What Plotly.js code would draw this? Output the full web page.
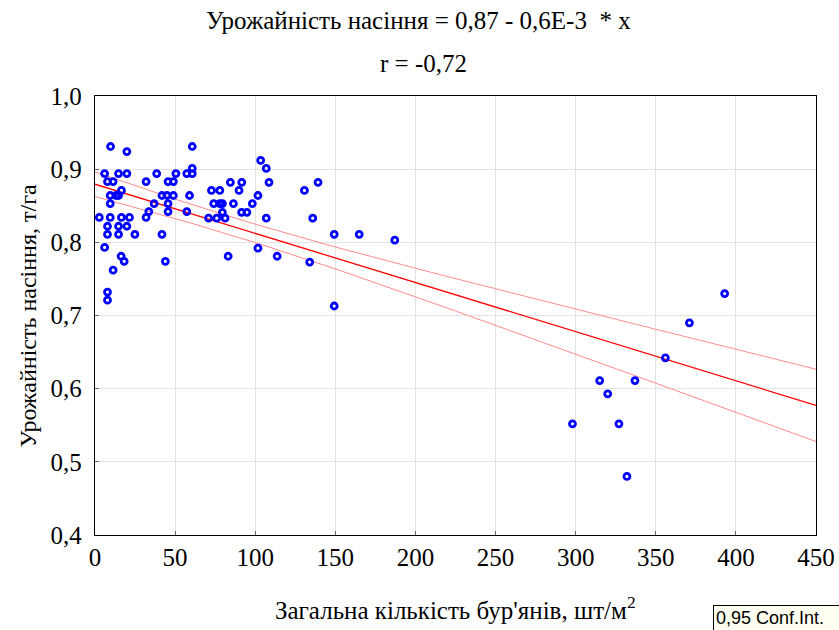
<!DOCTYPE html>
<html>
<head>
<meta charset="utf-8">
<script src="https://cdn.plot.ly/plotly-3.0.1.min.js"></script>
<style>html,body{margin:0;padding:0;background:#fff;}#chart{width:839px;height:630px;}</style>
</head>
<body>
<div id="chart"></div>
<script>
// Weed density (plants per m²)
var weedDensity = [
  9.7, 19.9, 60.7, 6.0, 14.7, 19.9, 38.5, 50.5, 57.3, 60.7,
  60.7, 7.8, 11.3, 31.9, 45.6, 48.9, 16.5, 9.5, 13.1, 14.7,
  41.8, 44.9, 48.9, 59.0, 9.5, 36.9, 45.6, 33.6, 45.6, 57.3,
  2.7, 9.5, 16.5, 21.5, 31.9, 7.8, 14.7, 19.9, 7.8, 14.7,
  24.9, 41.8, 6.0, 16.3, 18.2, 43.9, 11.3, 7.8, 7.8,
  103.4, 106.9, 84.5, 91.6, 108.6, 139.2, 72.7, 77.9, 89.9, 130.7,
  101.7, 74.1, 77.9, 79.5, 86.4, 98.2, 79.5, 91.5, 94.8, 70.9,
  76.0, 81.2, 106.9, 135.9, 149.3, 164.9, 187.1, 101.7, 83.1, 113.7,
  134.0, 149.3,
  393, 371, 356, 315, 337, 320, 298, 327, 332
];
// Seed yield (t/ha)
var seedYield = [
  0.931, 0.924, 0.931, 0.894, 0.894, 0.894, 0.894, 0.894, 0.894, 0.894,
  0.901, 0.883, 0.883, 0.883, 0.883, 0.883, 0.871, 0.864, 0.864, 0.864,
  0.864, 0.864, 0.864, 0.864, 0.853, 0.853, 0.853, 0.842, 0.842, 0.842,
  0.834, 0.834, 0.834, 0.834, 0.834, 0.822, 0.822, 0.822, 0.811, 0.811,
  0.811, 0.811, 0.793, 0.781, 0.774, 0.774, 0.762, 0.732, 0.721,
  0.912, 0.901, 0.882, 0.882, 0.882, 0.882, 0.871, 0.871, 0.871, 0.871,
  0.864, 0.853, 0.853, 0.853, 0.853, 0.853, 0.841, 0.841, 0.841, 0.833,
  0.833, 0.833, 0.833, 0.833, 0.811, 0.811, 0.803, 0.792, 0.781, 0.781,
  0.773, 0.713,
  0.730, 0.690, 0.642, 0.611, 0.611, 0.593, 0.552, 0.552, 0.480
];
var xTickVals = [0, 50, 100, 150, 200, 250, 300, 350, 400, 450];
var yTickVals = [0.4, 0.5, 0.6, 0.7, 0.8, 0.9, 1.0];
var titleLines = ["Урожайність насіння = 0,87 - 0,6E-3  * x", "r = -0,72"];
var xTitle = "Загальна кількість бур'янів, шт/м<sup>2</sup>";
var yTitle = "Урожайність насіння, т/га";
var legendText = "0,95 Conf.Int.";
var confLevelT = 1.987; // t(0.975, n-2)

// Least-squares fit and 95% confidence band for the mean
var n = weedDensity.length;
var mx = 0, my = 0;
for (var i = 0; i < n; i++) { mx += weedDensity[i]; my += seedYield[i]; }
mx /= n; my /= n;
var sxx = 0, sxy = 0;
for (var i = 0; i < n; i++) {
  sxx += (weedDensity[i] - mx) * (weedDensity[i] - mx);
  sxy += (weedDensity[i] - mx) * (seedYield[i] - my);
}
var slope = sxy / sxx, intercept = my - slope * mx;
var sse = 0;
for (var i = 0; i < n; i++) { var r = seedYield[i] - (intercept + slope * weedDensity[i]); sse += r * r; }
var s = Math.sqrt(sse / (n - 2));
var fx = [], fy = [], up = [], lo = [];
for (var k = 0; k <= 90; k++) {
  var xv = 450 * k / 90;
  var yv = intercept + slope * xv;
  var h = confLevelT * s * Math.sqrt(1 / n + (xv - mx) * (xv - mx) / sxx);
  fx.push(xv); fy.push(yv); up.push(yv + h); lo.push(yv - h);
}

var serif = "Liberation Serif, Times New Roman, serif";
var traces = [
  {x: fx, y: up, mode: 'lines', line: {color: '#ff8c8c', width: 1}, hoverinfo: 'skip'},
  {x: fx, y: lo, mode: 'lines', line: {color: '#ff8c8c', width: 1}, hoverinfo: 'skip'},
  {x: fx, y: fy, mode: 'lines', line: {color: '#ff0000', width: 1.3}, hoverinfo: 'skip'},
  {x: weedDensity, y: seedYield, mode: 'markers', type: 'scatter',
   marker: {symbol: 'circle-open', size: 6, color: '#0000ff', line: {width: 2.8, color: '#0000ff'}}}
];
var layout = {
  width: 839, height: 630,
  margin: {l: 95, r: 23, t: 96, b: 95},
  paper_bgcolor: '#ffffff', plot_bgcolor: '#ffffff',
  showlegend: false,
  separators: ', ',
  font: {family: serif, size: 25, color: '#000000'},
  xaxis: {
    range: [0, 450], tickvals: xTickVals, tickformat: 'd',
    showgrid: true, gridcolor: '#e3e3e3', gridwidth: 1, zeroline: false,
    showline: true, linecolor: '#000000', linewidth: 1.3, mirror: true,
    ticks: 'inside', ticklen: 4, tickcolor: '#666666', ticklabelstandoff: 0,
    tickfont: {family: serif, size: 25}
  },
  yaxis: {
    range: [0.4, 1.0], tickvals: yTickVals, tickformat: '.1f',
    showgrid: true, gridcolor: '#e3e3e3', gridwidth: 1, zeroline: false,
    showline: true, linecolor: '#000000', linewidth: 1.3, mirror: true,
    ticks: 'inside', ticklen: 4, tickcolor: '#666666', ticklabelstandoff: 7,
    tickfont: {family: serif, size: 25}
  },
  annotations: [
    {text: titleLines[0], xref: 'paper', yref: 'paper', x: 0.5, y: 1, xanchor: 'center', yanchor: 'middle',
     xshift: -37, yshift: 76, showarrow: false, font: {family: serif, size: 25}},
    {text: titleLines[1], xref: 'paper', yref: 'paper', x: 0.5, y: 1, xanchor: 'center', yanchor: 'middle',
     xshift: -32, yshift: 33, showarrow: false, font: {family: serif, size: 25}},
    {text: xTitle, xref: 'paper', yref: 'paper', x: 0.5, y: 0, xanchor: 'center', yanchor: 'middle',
     yshift: -73, showarrow: false, font: {family: serif, size: 25}},
    {text: yTitle, xref: 'paper', yref: 'paper', x: 0, y: 0.5, xanchor: 'center', yanchor: 'middle',
     xshift: -68, yshift: 0, textangle: -90, showarrow: false, font: {family: serif, size: 24}},
    {text: legendText, xref: 'paper', yref: 'paper', x: 1, y: 0, xanchor: 'left', yanchor: 'top',
     xshift: -103, yshift: -70, showarrow: false, align: 'left', width: 130,
     bgcolor: '#fffff2', bordercolor: '#000000', borderwidth: 1, borderpad: 2,
     font: {family: 'Liberation Sans, Arial, sans-serif', size: 18, color: '#000000'}}
  ]
};
Plotly.newPlot('chart', traces, layout, {displayModeBar: false, staticPlot: true});
</script>
</body>
</html>
